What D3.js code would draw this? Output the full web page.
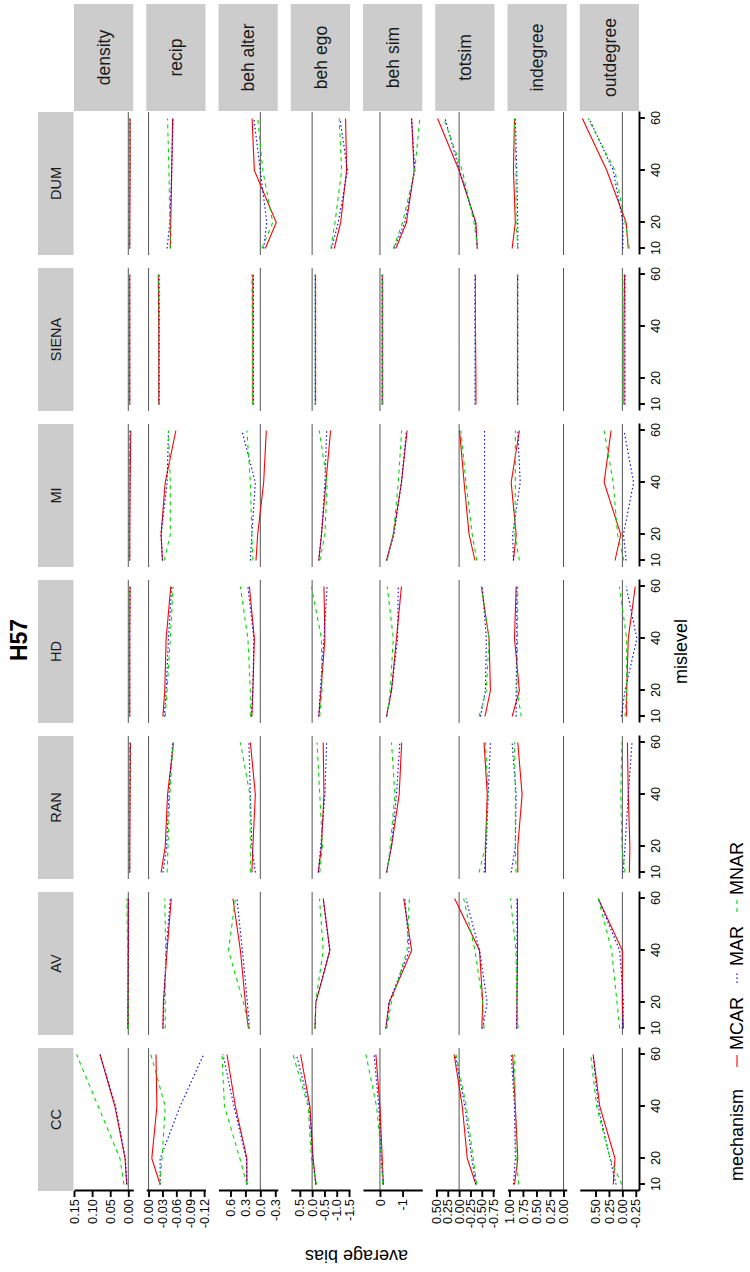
<!DOCTYPE html>
<html><head><meta charset="utf-8">
<script src="https://cdn.jsdelivr.net/npm/d3@7"></script>
<style>body{margin:0;background:#fff}svg{display:block}text{font-family:"Liberation Sans",Arial,Helvetica,sans-serif}</style>
</head><body><svg id="chart" width="750" height="1272"></svg>
<script>
const methods = ["CC","AV","RAN","HD","MI","SIENA","DUM"];
const params = ["density","recip","beh alter","beh ego","beh sim","totsim","indegree","outdegree"];
const mechanisms = ["MCAR","MAR","MNAR"];
const mislevels = [10,20,40,60];
const xTicks = [10,20,40,60];

// rows: [method, mechanism, bias@10, @20, @40, @60]
const densityBias = [
["CC","MCAR",0.0045,0.009,0.037,0.078],["CC","MAR",0.004,0.008,0.035,0.078],["CC","MNAR",0.012,0.023,0.083,0.143],
["AV","MCAR",0.001,0.001,0.0,0.0],["AV","MAR",0.001,0.001,0.0,0.0],["AV","MNAR",0.0,0.001,0.002,0.004],
["RAN","MCAR",-0.004,-0.004,-0.005,-0.006],["RAN","MAR",-0.004,-0.004,-0.004,-0.005],["RAN","MNAR",-0.003,-0.003,-0.004,-0.004],
["HD","MCAR",-0.004,-0.004,-0.004,-0.005],["HD","MAR",-0.004,-0.004,-0.004,-0.004],["HD","MNAR",-0.003,-0.003,-0.003,-0.002],
["MI","MCAR",-0.004,-0.004,-0.005,-0.007],["MI","MAR",-0.004,-0.004,-0.004,-0.005],["MI","MNAR",-0.003,-0.003,-0.003,-0.004],
["SIENA","MCAR",-0.004,-0.004,-0.004,-0.004],["SIENA","MAR",-0.004,-0.004,-0.004,-0.004],["SIENA","MNAR",-0.003,-0.003,-0.003,-0.003],
["DUM","MCAR",-0.004,-0.004,-0.005,-0.005],["DUM","MAR",-0.004,-0.004,-0.004,-0.004],["DUM","MNAR",-0.003,-0.003,-0.004,-0.004]];
const recipBias = [
["CC","MCAR",-0.025,-0.007,-0.018,-0.016],["CC","MAR",-0.025,-0.025,-0.068,-0.119],["CC","MNAR",-0.024,-0.029,-0.036,-0.005],
["AV","MCAR",-0.031,-0.032,-0.040,-0.049],["AV","MAR",-0.031,-0.033,-0.038,-0.047],["AV","MNAR",-0.036,-0.036,-0.037,-0.035],
["RAN","MCAR",-0.027,-0.036,-0.041,-0.054],["RAN","MAR",-0.031,-0.039,-0.044,-0.052],["RAN","MNAR",-0.040,-0.042,-0.046,-0.053],
["HD","MCAR",-0.031,-0.035,-0.038,-0.048],["HD","MAR",-0.034,-0.038,-0.043,-0.050],["HD","MNAR",-0.036,-0.040,-0.047,-0.053],
["MI","MCAR",-0.030,-0.027,-0.036,-0.059],["MI","MAR",-0.030,-0.027,-0.040,-0.043],["MI","MNAR",-0.034,-0.047,-0.047,-0.043],
["SIENA","MCAR",-0.022,-0.022,-0.022,-0.021],["SIENA","MAR",-0.023,-0.023,-0.023,-0.023],["SIENA","MNAR",-0.023,-0.023,-0.023,-0.022],
["DUM","MCAR",-0.047,-0.048,-0.050,-0.052],["DUM","MAR",-0.040,-0.046,-0.050,-0.053],["DUM","MNAR",-0.047,-0.046,-0.044,-0.041]];
const behAlterBias = [
["CC","MCAR",0.27,0.27,0.50,0.67],["CC","MAR",0.27,0.28,0.53,0.75],["CC","MNAR",0.27,0.41,0.72,0.77],
["AV","MCAR",0.24,0.30,0.40,0.55],["AV","MAR",0.22,0.26,0.36,0.47],["AV","MNAR",0.22,0.34,0.64,0.50],
["RAN","MCAR",0.17,0.15,0.10,0.20],["RAN","MAR",0.10,0.17,0.20,0.23],["RAN","MNAR",0.20,0.20,0.21,0.40],
["HD","MCAR",0.17,0.15,0.12,0.22],["HD","MAR",0.18,0.15,0.13,0.25],["HD","MNAR",0.20,0.20,0.25,0.40],
["MI","MCAR",0.087,0.053,-0.067,-0.12],["MI","MAR",0.20,0.17,0.10,0.37],["MI","MNAR",0.15,0.17,0.20,0.27],
["SIENA","MCAR",0.15,0.15,0.15,0.15],["SIENA","MAR",0.14,0.14,0.14,0.14],["SIENA","MNAR",0.16,0.16,0.16,0.17],
["DUM","MCAR",-0.10,-0.32,0.12,0.165],["DUM","MAR",-0.067,-0.13,0.0,0.13],["DUM","MNAR",-0.03,-0.25,-0.05,0.05]];
const behEgoBias = [
["CC","MCAR",-0.15,-0.04,0.09,0.47],["CC","MAR",-0.15,-0.02,0.11,0.64],["CC","MNAR",-0.18,0.03,0.16,0.78],
["AV","MCAR",-0.12,-0.15,-0.72,-0.45],["AV","MAR",-0.12,-0.15,-0.72,-0.45],["AV","MNAR",-0.12,-0.14,-0.45,-0.30],
["RAN","MCAR",-0.25,-0.38,-0.48,-0.45],["RAN","MAR",-0.25,-0.35,-0.52,-0.59],["RAN","MNAR",-0.31,-0.42,-0.31,-0.20],
["HD","MCAR",-0.27,-0.36,-0.52,-0.48],["HD","MAR",-0.27,-0.33,-0.48,-0.61],["HD","MNAR",-0.31,-0.40,-0.38,0.03],
["MI","MCAR",-0.27,-0.38,-0.56,-0.75],["MI","MAR",-0.27,-0.38,-0.52,-0.59],["MI","MNAR",-0.31,-0.52,-0.61,-0.29],
["SIENA","MCAR",-0.14,-0.14,-0.14,-0.14],["SIENA","MAR",-0.12,-0.12,-0.12,-0.12],["SIENA","MNAR",-0.13,-0.13,-0.13,-0.13],
["DUM","MCAR",-0.90,-1.16,-1.40,-1.36],["DUM","MAR",-0.79,-1.06,-1.44,-1.13],["DUM","MNAR",-0.76,-0.93,-1.20,-1.10]];
const behSimBias = [
["CC","MCAR",-0.15,-0.10,0.0,0.18],["CC","MAR",-0.15,-0.05,0.05,0.26],["CC","MNAR",-0.12,-0.07,0.15,0.62],
["AV","MCAR",-0.26,-0.41,-1.40,-1.05],["AV","MAR",-0.26,-0.40,-1.30,-1.10],["AV","MNAR",-0.30,-0.50,-1.20,-1.30],
["RAN","MCAR",-0.29,-0.51,-0.85,-0.96],["RAN","MAR",-0.29,-0.51,-0.73,-0.88],["RAN","MNAR",-0.32,-0.45,-0.66,-0.51],
["HD","MCAR",-0.29,-0.51,-0.73,-0.95],["HD","MAR",-0.29,-0.51,-0.78,-0.81],["HD","MNAR",-0.32,-0.45,-0.59,-0.32],
["MI","MCAR",-0.29,-0.59,-0.95,-1.20],["MI","MAR",-0.29,-0.62,-0.95,-1.17],["MI","MNAR",-0.32,-0.59,-0.81,-0.96],
["SIENA","MCAR",-0.10,-0.10,-0.10,-0.10],["SIENA","MAR",-0.10,-0.10,-0.10,-0.10],["SIENA","MNAR",-0.13,-0.13,-0.13,-0.13],
["DUM","MCAR",-0.70,-1.17,-1.51,-1.40],["DUM","MAR",-0.62,-1.10,-1.54,-1.40],["DUM","MNAR",-0.59,-1.00,-1.54,-1.76]];
const totsimBias = [
["CC","MCAR",-0.37,-0.18,-0.07,0.11],["CC","MAR",-0.37,-0.28,-0.13,0.09],["CC","MNAR",-0.39,-0.31,-0.16,0.07],
["AV","MCAR",-0.50,-0.52,-0.45,0.10],["AV","MAR",-0.52,-0.62,-0.45,-0.15],["AV","MNAR",-0.55,-0.52,-0.35,-0.10],
["RAN","MCAR",-0.58,-0.58,-0.62,-0.55],["RAN","MAR",-0.55,-0.60,-0.64,-0.69],["RAN","MNAR",-0.44,-0.58,-0.64,-0.58],
["HD","MCAR",-0.57,-0.69,-0.66,-0.49],["HD","MAR",-0.47,-0.58,-0.60,-0.51],["HD","MNAR",-0.44,-0.60,-0.66,-0.49],
["MI","MCAR",-0.35,-0.22,-0.11,-0.01],["MI","MAR",-0.56,-0.56,-0.56,-0.56],["MI","MNAR",-0.39,-0.29,-0.15,-0.04],
["SIENA","MCAR",-0.37,-0.37,-0.36,-0.36],["SIENA","MAR",-0.35,-0.35,-0.35,-0.35],["SIENA","MNAR",-0.36,-0.36,-0.36,-0.36],
["DUM","MCAR",-0.40,-0.37,0.0,0.475],["DUM","MAR",-0.40,-0.36,-0.01,0.31],["DUM","MNAR",-0.41,-0.33,-0.07,0.34]];
const indegreeBias = [
["CC","MCAR",0.906,0.845,0.89,0.94],["CC","MAR",0.925,0.89,0.906,0.967],["CC","MNAR",0.827,0.875,0.89,0.906],
["AV","MCAR",0.86,0.86,0.85,0.85],["AV","MAR",0.87,0.86,0.86,0.86],["AV","MNAR",0.84,0.86,0.88,0.98],
["RAN","MCAR",0.845,0.845,0.765,0.845],["RAN","MAR",0.967,0.89,0.875,0.95],["RAN","MNAR",0.875,0.89,0.89,0.906],
["HD","MCAR",0.95,0.815,0.906,0.875],["HD","MAR",0.875,0.875,0.864,0.864],["HD","MNAR",0.78,0.86,0.85,0.845],
["MI","MCAR",0.925,0.875,0.967,0.815],["MI","MAR",0.925,0.94,0.80,0.845],["MI","MNAR",0.815,0.90,0.89,0.89],
["SIENA","MCAR",0.85,0.85,0.85,0.85],["SIENA","MAR",0.845,0.845,0.845,0.845],["SIENA","MNAR",0.85,0.85,0.85,0.85],
["DUM","MCAR",0.95,0.89,0.925,0.906],["DUM","MAR",0.845,0.845,0.864,0.89],["DUM","MNAR",0.845,0.875,0.88,0.906]];
const outdegreeBias = [
["CC","MCAR",0.17,0.137,0.42,0.545],["CC","MAR",0.118,0.23,0.45,0.545],["CC","MNAR",0.01,0.23,0.48,0.59],
["AV","MCAR",-0.02,0.0,0.0,0.45],["AV","MAR",0.0,-0.02,0.05,0.45],["AV","MNAR",0.05,0.1,0.2,0.45],
["RAN","MCAR",-0.13,-0.14,-0.11,-0.094],["RAN","MAR",-0.01,-0.05,-0.11,-0.18],["RAN","MNAR",-0.05,0.01,0.03,0.01],
["HD","MCAR",-0.08,-0.08,-0.11,-0.24],["HD","MAR",0.02,-0.05,-0.27,-0.07],["HD","MNAR",-0.05,-0.08,-0.08,0.056],
["MI","MCAR",0.137,0.03,0.34,0.21],["MI","MAR",-0.07,-0.02,-0.21,-0.03],["MI","MNAR",-0.03,0.09,0.17,0.34],
["SIENA","MCAR",-0.03,-0.03,-0.03,-0.04],["SIENA","MAR",-0.05,-0.05,-0.05,-0.05],["SIENA","MNAR",-0.01,-0.01,-0.01,-0.01],
["DUM","MCAR",-0.11,-0.07,0.29,0.745],["DUM","MAR",-0.01,-0.01,0.17,0.62],["DUM","MNAR",-0.13,-0.05,0.14,0.64]];
const biasByParam = [densityBias,recipBias,behAlterBias,behEgoBias,behSimBias,totsimBias,indegreeBias,outdegreeBias];

const yLimits = [[-0.0137,0.150],[-0.123,0.005],[-0.35,0.84],[-1.54,0.87],[-1.87,0.75],[-0.78,0.526],[-0.06,1.035],[-0.31,0.794]];
const yTicks = [[0,0.05,0.10,0.15],[-0.12,-0.09,-0.06,-0.03,0],[-0.3,0,0.3,0.6],[-1.5,-1,-0.5,0,0.5],[-1,0],[-0.75,-0.5,-0.25,0,0.25,0.5],[0,0.25,0.5,0.75,1],[-0.25,0,0.25,0.5]];
const yDecimals = [2,2,1,1,0,2,2,2];

const mechColor = {MCAR:"#ff0000", MAR:"#0000ff", MNAR:"#00dd00"};
const mechDash = {MCAR:null, MAR:"1.5,2.5", MNAR:"4,4"};

// layout in unrotated (landscape 1272 x 750) coordinates
const W = 1272, H = 750;
const pL = 81, pR = 1160, pT = 74, pB = 639, colGap = 13, rowGap = 13;
const colW = (pR - pL - colGap*(methods.length-1))/methods.length;
const rowH = (pB - pT - rowGap*(params.length-1))/params.length;

const svg = d3.select("#chart");
const g = svg.append("g").attr("transform", `translate(0,${W}) rotate(-90)`);

const xScales = methods.map((m,i) => d3.scaleLinear().domain([7.5,62.5]).range([pL + i*(colW+colGap), pL + i*(colW+colGap) + colW]));
const yScales = params.map((p,j) => d3.scaleLinear().domain(yLimits[j]).range([pT + j*(rowH+rowGap) + rowH, pT + j*(rowH+rowGap)]));

const fmtHyphen = dec => v => d3.format(`.${dec}f`)(v).replace("\u2212","-");

// title
g.append("text").attr("x", 632).attr("y", 27).attr("text-anchor","middle").attr("font-weight","bold").attr("font-size",23).text("H57");

// method strips (top)
methods.forEach((m,i) => {
  const x0 = xScales[i].range()[0];
  g.append("rect").attr("x", x0).attr("y", 38).attr("width", colW).attr("height", 35.5).attr("fill","#cccccc");
  g.append("text").attr("x", x0 + colW/2).attr("y", 38+17.75).attr("dy","0.35em").attr("text-anchor","middle").attr("font-size",14.5).attr("fill","#1a1a1a").text(m);
});
// parameter strips (right)
params.forEach((p,j) => {
  const y1 = yScales[j].range()[1];
  g.append("rect").attr("x", pR+1).attr("y", y1).attr("width", 107).attr("height", rowH).attr("fill","#cccccc");
  g.append("text").attr("x", pR+1+53.5).attr("y", y1 + rowH/2).attr("dy","0.35em").attr("text-anchor","middle").attr("font-size",17.5).attr("fill","#1a1a1a").text(p);
});

const line = d3.line();
params.forEach((p,j) => {
  const y = yScales[j];
  methods.forEach((m,i) => {
    const x = xScales[i];
    const pg = g.append("g");
    pg.append("line").attr("x1", x.range()[0]).attr("x2", x.range()[1]).attr("y1", y(0)).attr("y2", y(0))
      .attr("stroke","#555555").attr("stroke-width",1);
    mechanisms.forEach(mech => {
      const row = biasByParam[j].find(r => r[0]===m && r[1]===mech);
      const pts = mislevels.map((lv,k) => [x(lv), y(row[2+k])]);
      pg.append("path").attr("d", line(pts)).attr("fill","none").attr("stroke", mechColor[mech])
        .attr("stroke-width",1.1).attr("stroke-dasharray", mechDash[mech]);
    });
  });
  // y axis on left
  const ax = g.append("g").attr("transform", `translate(${pL},0)`)
    .call(d3.axisLeft(y).tickValues(yTicks[j]).tickFormat(fmtHyphen(yDecimals[j])).tickSize(6).tickSizeOuter(0).tickPadding(2));
  ax.select(".domain").attr("stroke","#000").attr("stroke-width",1.9);
  ax.selectAll(".tick line").attr("stroke","#000").attr("stroke-width",1.9);
  ax.selectAll("text").attr("font-size",12.8).attr("fill","#000").attr("font-family",'"Liberation Sans",Arial,sans-serif');
});
// x axes at the bottom
methods.forEach((m,i) => {
  const ax = g.append("g").attr("transform", `translate(0,${pB})`)
    .call(d3.axisBottom(xScales[i]).tickValues(xTicks).tickFormat(d3.format("d")).tickSize(6).tickSizeOuter(0).tickPadding(6));
  ax.select(".domain").attr("stroke","#000").attr("stroke-width",1.9);
  ax.selectAll(".tick line").attr("stroke","#000").attr("stroke-width",1.9);
  ax.selectAll("text").attr("font-size",12.8).attr("fill","#000").attr("font-family",'"Liberation Sans",Arial,sans-serif');
});
// axis titles
g.append("text").attr("x", (pL+pR)/2).attr("y", 687).attr("text-anchor","middle").attr("font-size",18).text("mislevel");
g.append("text").attr("transform", `translate(22,${(pT+pB)/2}) rotate(-90)`).attr("text-anchor","middle").attr("font-size",18).text("average bias");

// legend
const leg = g.append("g").attr("transform","translate(0,743)");
leg.append("text").attr("x", 91).attr("y", 0).attr("font-size",18).text("mechanism");
let lx = 205;
mechanisms.forEach(mech => {
  leg.append("line").attr("x1", lx).attr("x2", lx+12).attr("y1",-6).attr("y2",-6)
    .attr("stroke", mechColor[mech]).attr("stroke-width",1.1).attr("stroke-dasharray", mechDash[mech]);
  const t = leg.append("text").attr("x", lx+17).attr("y", 0).attr("font-size",18).text(mech);
  lx += 17 + t.node().getComputedTextLength() + 14;
});
</script></body></html>
